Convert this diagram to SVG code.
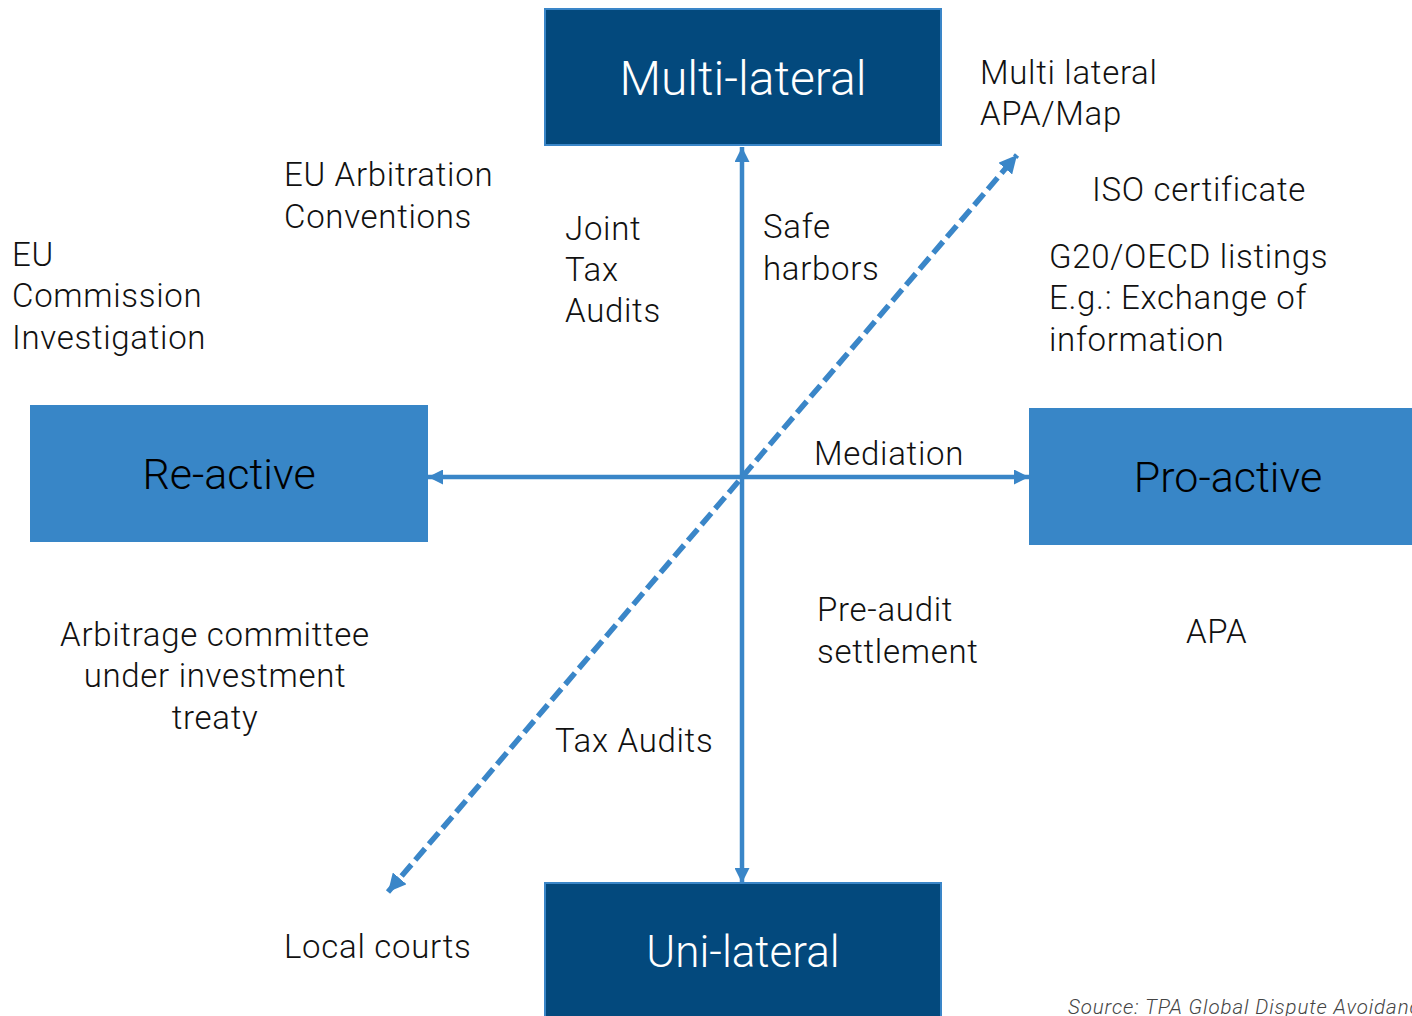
<svg xmlns="http://www.w3.org/2000/svg" width="1412" height="1016" viewBox="0 0 1412 1016">
<defs>
<style>
.t{font-family:Roboto,"Liberation Sans",sans-serif;font-weight:300;font-size:33px;letter-spacing:0.7px;fill:#111}
.box-dark{fill:#03497D;stroke:#3A86C8;stroke-width:2}
.box-light{fill:#3886C7}
.lbl-w{font-family:Roboto,"Liberation Sans",sans-serif;font-weight:300;fill:#fff;text-anchor:middle}
.lbl-b{font-family:Roboto,"Liberation Sans",sans-serif;font-weight:300;font-size:43px;fill:#000;text-anchor:middle}
.ln{stroke:#3A86C8;stroke-width:4.5;fill:none}
.dash{stroke:#3A86C8;stroke-width:5.5;fill:none;stroke-dasharray:15 6}
.src{font-family:Roboto,"Liberation Sans",sans-serif;font-weight:300;font-style:italic;font-size:20.5px;letter-spacing:0.9px;fill:#444}
</style>
<marker id="ah" viewBox="0 0 10 10" refX="10" refY="5" markerWidth="15" markerHeight="15" markerUnits="userSpaceOnUse" orient="auto-start-reverse">
<path d="M0,0 L10,5 L0,10 z" fill="#3A86C8"/>
</marker>
<marker id="ahd" viewBox="0 0 10 10" refX="10" refY="5" markerWidth="18" markerHeight="18" markerUnits="userSpaceOnUse" orient="auto-start-reverse">
<path d="M0,0 L10,5 L0,10 z" fill="#3A86C8"/>
</marker>
</defs>
<rect width="1412" height="1016" fill="#fff"/>

<g id="connectors">
<line class="ln" x1="742" y1="477" x2="742" y2="147" marker-end="url(#ah)"/>
<line class="ln" x1="742" y1="477" x2="742" y2="883" marker-end="url(#ah)"/>
<line class="ln" x1="742" y1="477" x2="428" y2="477" marker-end="url(#ah)"/>
<line class="ln" x1="742" y1="477" x2="1029" y2="477" marker-end="url(#ah)"/>
<line class="dash" x1="388" y1="892" x2="1017" y2="155" marker-start="url(#ahd)" marker-end="url(#ahd)"/>
</g>

<g id="multilateral">
<rect class="box-dark" x="545" y="9" width="396" height="136"/>
<text class="lbl-w" x="743" y="95" font-size="48">Multi-lateral</text>
</g>
<g id="reactive">
<rect class="box-light" x="30" y="405" width="398" height="137"/>
<text class="lbl-b" x="229" y="489">Re-active</text>
</g>
<g id="proactive">
<rect class="box-light" x="1029" y="408" width="390" height="137"/>
<text class="lbl-b" x="1228" y="492">Pro-active</text>
</g>
<g id="unilateral">
<rect class="box-dark" x="545" y="883" width="396" height="140"/>
<text class="lbl-w" x="743" y="967" font-size="44">Uni-lateral</text>
</g>

<g id="labels">
<text class="t" x="284" y="186">EU Arbitration</text>
<text class="t" x="284" y="228">Conventions</text>
<text class="t" x="12" y="266">EU</text>
<text class="t" x="12" y="307">Commission</text>
<text class="t" x="12" y="349">Investigation</text>
<text class="t" x="565" y="240">Joint</text>
<text class="t" x="565" y="281">Tax</text>
<text class="t" x="565" y="322">Audits</text>
<text class="t" x="763" y="238">Safe</text>
<text class="t" x="763" y="280">harbors</text>
<text class="t" x="980" y="84">Multi lateral</text>
<text class="t" x="980" y="125">APA/Map</text>
<text class="t" x="1092" y="201">ISO certificate</text>
<text class="t" x="1049" y="268">G20/OECD listings</text>
<text class="t" x="1049" y="309">E.g.: Exchange of</text>
<text class="t" x="1049" y="351">information</text>
<text class="t" x="814" y="465">Mediation</text>
<text class="t" x="817" y="621">Pre-audit</text>
<text class="t" x="817" y="663">settlement</text>
<text class="t" x="1186" y="643">APA</text>
<text class="t" x="215" y="646" text-anchor="middle">Arbitrage committee</text>
<text class="t" x="215" y="687" text-anchor="middle">under investment</text>
<text class="t" x="215" y="729" text-anchor="middle">treaty</text>
<text class="t" x="555" y="752">Tax Audits</text>
<text class="t" x="284" y="958">Local courts</text>
<text class="src" x="1068" y="1014">Source: TPA Global Dispute Avoidance</text>
</g>
</svg>
